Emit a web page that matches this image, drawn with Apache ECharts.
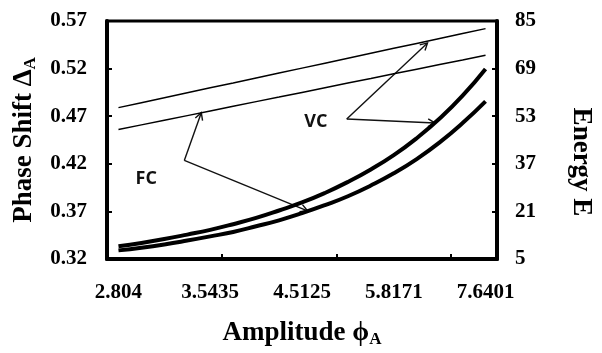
<!DOCTYPE html>
<html>
<head>
<meta charset="utf-8">
<script src="https://cdn.jsdelivr.net/npm/echarts@6/dist/echarts.min.js"></script>
<style>
html,body{margin:0;padding:0;background:#fff;}
#c{width:602px;height:353px;}
</style>
</head>
<body>
<div id="c"></div>
<script>
// Amplitude categories (every 4th is labelled on the axis)
const categories = ['2.804','2.971','3.149','3.340','3.5435','3.761','3.995','4.245','4.5125','4.801','5.113','5.451','5.8171','6.215','6.649','7.123','7.6401'];
// Phase shift (left axis), thin lines
const phaseVC = [0.4790,0.4842,0.4894,0.4946,0.4998,0.5049,0.5101,0.5153,0.5205,0.5257,0.5309,0.5361,0.5413,0.5464,0.5516,0.5568,0.5620];
const phaseFC = [0.4560,0.4609,0.4658,0.4706,0.4755,0.4804,0.4853,0.4901,0.4950,0.4999,0.5048,0.5096,0.5145,0.5194,0.5243,0.5291,0.5340];
// Energy (right axis), thick curves
const energyVC = [9.3,10.4,11.7,13.2,14.8,16.7,18.8,21.3,24.0,27.2,30.9,35.1,39.9,45.6,52.2,59.9,68.9];
const energyFC = [7.9,8.8,9.9,11.2,12.6,14.1,16.0,18.0,20.4,23.1,26.1,29.7,33.8,38.6,44.2,50.7,58.0];

// Annotations: [categoryIndex, value, yAxisIndex]
const notes = [
  {text:'VC', at:[8.6,0.464,0], from:[9.95,0.467,0], to:[[13.47,0.547,0],[13.80,50.7,1]]},
  {text:'FC', at:[1.21,0.4037,0], from:[2.87,0.4235,0], to:[[3.61,0.4737,0],[8.24,21.2,1]]}
];

const SERIF = '"Liberation Serif","Times New Roman",serif';
const chart = echarts.init(document.getElementById('c'));

const labelStyle = {color:'#000', fontFamily:SERIF, fontWeight:'bold', fontSize:21};
const nameStyle = {color:'#000', fontFamily:SERIF, fontWeight:'bold', fontSize:27, lineHeight:30,
  rich:{s:{color:'#000', fontFamily:SERIF, fontWeight:'bold', fontSize:17, lineHeight:16, verticalAlign:'bottom'}}};

chart.setOption({
  animation:false,
  grid:{left:107, top:21, width:398, height:252.5, show:true, borderColor:'#000', borderWidth:3},
  xAxis:{
    type:'category', data:categories, boundaryGap:true,
    axisLine:{show:true, lineStyle:{color:'#000', width:4}},
    axisTick:{show:true, inside:true, length:5, interval:4, lineStyle:{color:'#000', width:2}},
    axisLabel:Object.assign({interval:3, margin:23}, labelStyle),
    splitLine:{show:false},
    name:'Amplitude ϕ{s|A}', nameLocation:'middle', nameGap:59,
    nameTextStyle:nameStyle
  },
  yAxis:[
    {
      type:'value', position:'left', min:0.32, max:0.57, interval:0.05,
      axisLine:{show:true, lineStyle:{color:'#000', width:4}},
      axisTick:{show:true, inside:true, length:5, lineStyle:{color:'#000', width:2}},
      axisLabel:Object.assign({margin:20, formatter:v=>v.toFixed(2)}, labelStyle),
      splitLine:{show:false},
      name:'Phase Shift Δ{s|A}', nameLocation:'middle', nameGap:64, nameRotate:90,
      nameTextStyle:nameStyle
    },
    {
      type:'value', position:'right', min:5, max:85, interval:16,
      axisLine:{show:true, lineStyle:{color:'#000', width:4}},
      axisTick:{show:true, inside:true, length:5, lineStyle:{color:'#000', width:2}},
      axisLabel:Object.assign({margin:18}, labelStyle),
      splitLine:{show:false},
      name:'Energy E', nameLocation:'middle', nameGap:70, nameRotate:-90,
      nameTextStyle:{color:'#000', fontFamily:SERIF, fontWeight:'bold', fontSize:27, padding:[0,0,0,44]}
    }
  ],
  series:[
    {name:'Phase VC', type:'line', yAxisIndex:0, data:phaseVC, symbol:'none', silent:true, lineStyle:{color:'#000', width:1.5}},
    {name:'Phase FC', type:'line', yAxisIndex:0, data:phaseFC, symbol:'none', silent:true, lineStyle:{color:'#000', width:1.5}},
    {name:'Energy VC', type:'line', yAxisIndex:1, data:energyVC, symbol:'none', silent:true, smooth:true, lineStyle:{color:'#000', width:4}},
    {name:'Energy FC', type:'line', yAxisIndex:1, data:energyFC, symbol:'none', silent:true, smooth:true, lineStyle:{color:'#000', width:4}}
  ]
});

function toPx(p){
  const i = p[0], v = p[1], yi = p[2];
  const i0 = Math.floor(i), i1 = Math.min(i0+1, categories.length-1);
  const a = chart.convertToPixel({xAxisIndex:0, yAxisIndex:yi}, [i0, v]);
  const b = chart.convertToPixel({xAxisIndex:0, yAxisIndex:yi}, [i1, v]);
  return [a[0] + (b[0]-a[0])*(i-i0), a[1]];
}

const g = [];
notes.forEach(n=>{
  const t = toPx(n.at);
  g.push({type:'text', x:t[0], y:t[1], silent:true,
    style:{text:n.text, fill:'#111', fontFamily:'"Open Sans", "Noto Sans", sans-serif', fontWeight:'bold', fontSize:18, align:'center', verticalAlign:'middle'}});
  const f = toPx(n.from);
  n.to.forEach(tp=>{
    const e = toPx(tp);
    g.push({type:'line', silent:true, shape:{x1:f[0], y1:f[1], x2:e[0], y2:e[1]}, style:{stroke:'#111', lineWidth:1.4}});
    const ang = Math.atan2(e[1]-f[1], e[0]-f[0]);
    const L = 8, h = 0.5;
    g.push({type:'polyline', silent:true, shape:{points:[
      [e[0]-L*Math.cos(ang-h), e[1]-L*Math.sin(ang-h)],
      [e[0], e[1]],
      [e[0]-L*Math.cos(ang+h), e[1]-L*Math.sin(ang+h)]
    ]}, style:{stroke:'#111', lineWidth:1.4, fill:null}});
  });
});
chart.setOption({graphic:g});
</script>
</body>
</html>
